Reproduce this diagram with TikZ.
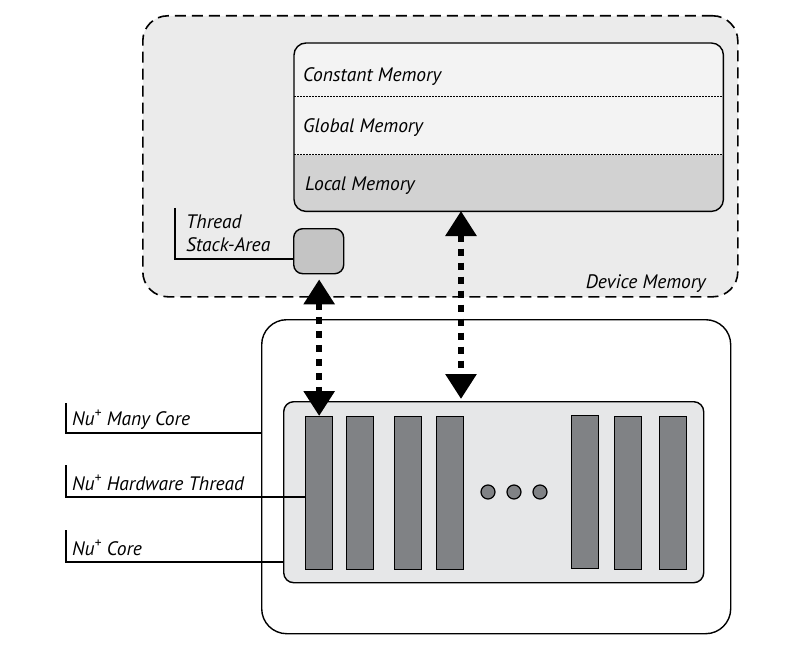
\documentclass[tikz,border=0pt]{standalone}
\usepackage{fontspec}
\setmainfont{PT Sans}
\usetikzlibrary{arrows.meta}
\definecolor{devfill}{HTML}{EBEBEB}
\definecolor{memfill}{HTML}{F3F3F3}
\definecolor{locfill}{HTML}{D2D2D2}
\definecolor{stackfill}{HTML}{C4C4C4}
\definecolor{corefill}{HTML}{E6E7E8}
\definecolor{barfill}{HTML}{808285}
\tikzset{
  lbl/.style={font=\fontsize{19.5}{22}\selectfont\itshape, inner sep=0pt, anchor=base west},
  bar/.style={draw=black, line width=1.3pt, fill=barfill, minimum width=27pt, minimum height=153pt, inner sep=0pt, anchor=north west},
  dotc/.style={circle, draw=black, line width=1.2pt, fill=barfill, minimum size=14pt, inner sep=0pt},
  bracket/.style={line width=1.1pt},
  bigarrow/.style={line width=6pt, dash pattern=on 7pt off 7pt, {Triangle[width=30pt,length=25pt]}-{Triangle[width=30pt,length=25pt]}, shorten <=0pt, shorten >=0pt},
}
\begin{document}
\begin{tikzpicture}[x=1pt,y=-1pt]
\useasboundingbox (0,0) rectangle (800,647);
% Device memory
\node[draw, dash pattern=on 11pt off 6pt, line width=1.6pt, fill=devfill, rounded corners=25pt, minimum width=595pt, minimum height=281pt, anchor=north west, inner sep=0pt] (dev) at (142,15) {};
\node[lbl, anchor=base east] (devlbl) at (706,288) {Device Memory};
% memory box
\node[fill=memfill, rounded corners=12pt, minimum width=429pt, minimum height=168pt, anchor=north west, inner sep=0pt] (mem) at (294,43) {};
\begin{scope}
\clip[rounded corners=12pt] (294,43) rectangle (723,211);
\fill[locfill] (294,155) rectangle (723,211);
\end{scope}
\draw[line width=1.4pt, rounded corners=12pt] (mem.north west) rectangle (mem.south east);
\draw[line width=1pt, dash pattern=on 1.5pt off 1.5pt] (294,97) -- (723,97);
\draw[line width=1pt, dash pattern=on 1.5pt off 1.5pt] (294,155) -- (723,155);
\node[lbl] (const) at (303,82) {Constant Memory};
\node[lbl] (glob) at (303,133) {Global Memory};
\node[lbl] (loc) at (305,190) {Local Memory};
% thread stack
\node[draw, line width=1.4pt, fill=stackfill, rounded corners=9pt, minimum width=50pt, minimum height=45pt, anchor=north west, inner sep=0pt] (stack) at (293,228) {};
\node[lbl] (thr) at (186,228) {Thread};
\node[lbl] (sta) at (186,251) {Stack-Area};
\coordinate (stk1) at (175,208);
\coordinate (stk2) at (175,259);
\draw[bracket] (stk1) -- (stk2) -- (stack.west |- stk2);
% many core
\node[draw, line width=1.4pt, fill=white, rounded corners=25pt, minimum width=469pt, minimum height=314pt, anchor=north west, inner sep=0pt] (many) at (261,319) {};
\node[draw, line width=1.4pt, fill=corefill, rounded corners=10pt, minimum width=420pt, minimum height=181pt, anchor=north west, inner sep=0pt] (core) at (283,401) {};
\node[bar] (b1) at (305,416) {};
\node[bar] (b2) at (346,416) {};
\node[bar] (b3) at (394,416) {};
\node[bar] (b4) at (436,416) {};
\node[bar] (b5) at (571,415) {};
\node[bar] (b6) at (614,416) {};
\node[bar] (b7) at (659,416) {};
\node[dotc] (d1) at (488,492) {};
\node[dotc] (d2) at (514,492) {};
\node[dotc] (d3) at (540,492) {};
% arrows
\draw[bigarrow] (stack.south -| b1.north) ++(0,5) coordinate (a1s) -- (b1.north);
\coordinate (a2t) at (461,211);
\coordinate (a2b) at (461,399);
\draw[bigarrow] (a2t) -- (a2b);
% left labels
\node[lbl] (lmany) at (72,425) {Nu\textsuperscript{+} Many Core};
\node[lbl] (lhw) at (72,490) {Nu\textsuperscript{+} Hardware Thread};
\node[lbl] (lcore) at (72,555) {Nu\textsuperscript{+} Core};
\coordinate (m1) at (66,403); \coordinate (m2) at (66,433);
\coordinate (h1) at (66,465); \coordinate (h2) at (66,497);
\coordinate (c1) at (66,530); \coordinate (c2) at (66,562);
\draw[bracket] (m1) -- (m2) -- (many.west |- m2);
\draw[bracket] (h1) -- (h2) -- (b1.west |- h2);
\draw[bracket] (c1) -- (c2) -- (core.west |- c2);
\end{tikzpicture}
\end{document}
